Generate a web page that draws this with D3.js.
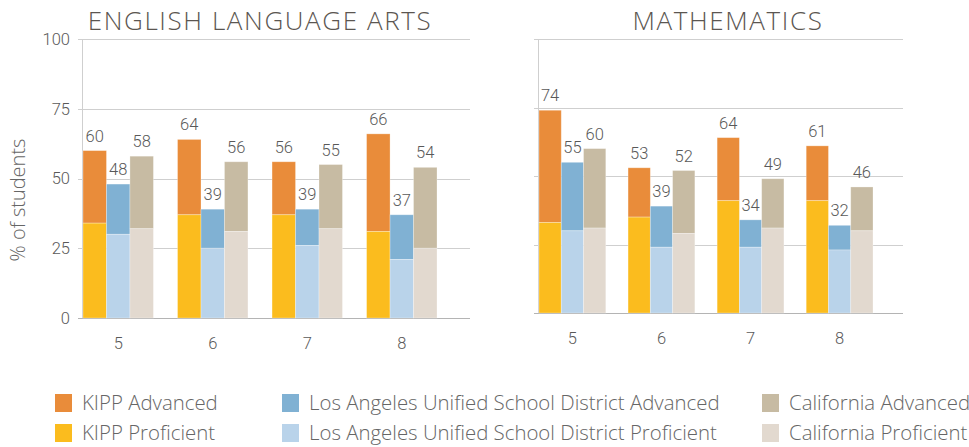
<!DOCTYPE html>
<html lang="en">
<head>
<meta charset="UTF-8">
<title>KIPP vs LAUSD vs California</title>
<script src="https://d3js.org/d3.v7.min.js"></script>
<style>
  body { margin: 0; background: #fff; }
  .title { font-family: "Open Sans", sans-serif; font-weight: 300; font-size: 26px; fill: #5b5651; letter-spacing: 1.6px; }
  .num { font-family: "Roboto", sans-serif; font-weight: 300; font-size: 16.5px; fill: #595959; }
  .legend { font-family: "Open Sans", sans-serif; font-weight: 300; font-size: 20.4px; fill: #666; }
  .ylab { font-family: "Open Sans", sans-serif; font-weight: 300; font-size: 20px; fill: #666; }
</style>
</head>
<body>
<svg width="969" height="447"></svg>
<script>
// data
var grades = ["5", "6", "7", "8"];
var groups = ["KIPP", "Los Angeles Unified School District", "California"];
var yTicks = [0, 25, 50, 75, 100];

// English Language Arts, % of students (proficient part, total proficient+advanced)
var elaProficient = {
  "KIPP": [34, 37, 37, 31],
  "Los Angeles Unified School District": [30, 25, 26, 21],
  "California": [32, 31, 32, 25]
};
var elaTotal = {
  "KIPP": [60, 64, 56, 66],
  "Los Angeles Unified School District": [48, 39, 39, 37],
  "California": [58, 56, 55, 54]
};

// Mathematics
var mathProficient = {
  "KIPP": [33, 35, 41, 41],
  "Los Angeles Unified School District": [30, 24, 24, 23],
  "California": [31, 29, 31, 30]
};
var mathTotal = {
  "KIPP": [74, 53, 64, 61],
  "Los Angeles Unified School District": [55, 39, 34, 32],
  "California": [60, 52, 49, 46]
};

var advColors = { "KIPP": "#e98c3a", "Los Angeles Unified School District": "#80b1d3", "California": "#c7bba3" };
var profColors = { "KIPP": "#fbbc1e", "Los Angeles Unified School District": "#b9d3ea", "California": "#e2d9cf" };

var svg = d3.select("svg");

function drawPanel(opts) {
  var g = svg.append("g");
  var y = d3.scaleLinear().domain([0, 100]).range([opts.y0, opts.y100]);
  var x = d3.scaleBand().domain(grades).range([opts.x0 + 1, opts.x1]).paddingInner(opts.pad).paddingOuter(0);
  var xs = d3.scaleBand().domain(groups).range([0, x.bandwidth()]);

  // gridlines
  g.selectAll(".grid").data(yTicks).enter().append("line")
    .attr("x1", opts.x0 - 4).attr("x2", opts.gridEnd)
    .attr("y1", function (d) { return Math.round(y(d)) + 0.5; })
    .attr("y2", function (d) { return Math.round(y(d)) + 0.5; })
    .attr("stroke", function (d) { return d == 0 ? "#b4b4b4" : "#cfcfcf"; })
    .attr("stroke-width", 1);
  // vertical axis line
  g.append("line").attr("x1", opts.x0 + 0.5).attr("x2", opts.x0 + 0.5)
    .attr("y1", y(100)).attr("y2", y(0)).attr("stroke", "#cfcfcf");

  if (opts.labels) {
    var ax = g.append("g").attr("transform", "translate(" + (opts.x0 - 4) + ",0)")
      .call(d3.axisLeft(y).tickValues(yTicks).tickSize(0).tickPadding(8));
    ax.select(".domain").remove();
    ax.selectAll("text").attr("class", "num").attr("font-family", null).attr("font-size", null)
      .attr("fill", null);
  }

  // x labels
  g.selectAll(".xl").data(grades).enter().append("text").attr("class", "num")
    .attr("x", function (d) { return x(d) + x.bandwidth() / 2; })
    .attr("y", opts.y0 + 31).attr("text-anchor", "middle").text(function (d) { return d; });

  groups.forEach(function (grp) {
    grades.forEach(function (gr, i) {
      var bx = x(gr) + xs(grp), bw = xs.bandwidth();
      var p = opts.prof[grp][i], t = opts.total[grp][i];
      g.append("rect").attr("x", bx).attr("width", bw)
        .attr("y", y(t)).attr("height", y(p) - y(t))
        .attr("fill", advColors[grp]).attr("stroke", "#fff").attr("stroke-opacity", 0.35).attr("stroke-width", 0.8);
      g.append("rect").attr("x", bx).attr("width", bw)
        .attr("y", y(p)).attr("height", y(0) - y(p))
        .attr("fill", profColors[grp]).attr("stroke", "#fff").attr("stroke-opacity", 0.35).attr("stroke-width", 0.8);
      g.append("text").attr("class", "num").attr("text-anchor", "middle")
        .attr("x", bx + bw / 2).attr("y", y(t) - 9).text(t);
    });
  });

  svg.append("text").attr("class", "title").attr("x", opts.titleX).attr("y", 30)
    .attr("text-anchor", "middle").text(opts.title);
}

drawPanel({ title: "ENGLISH LANGUAGE ARTS", titleX: 260, x0: 82, x1: 437, gridEnd: 470, pad: 0.255,
  y0: 318, y100: 39, labels: true, prof: elaProficient, total: elaTotal });
drawPanel({ title: "MATHEMATICS", titleX: 728, x0: 538, x1: 873, gridEnd: 903, pad: 0.25,
  y0: 313, y100: 39, labels: false, prof: mathProficient, total: mathTotal });

svg.append("text").attr("class", "ylab").attr("text-anchor", "middle")
  .attr("transform", "translate(25,200) rotate(-90)").text("% of students");

// legend
var legendItems = [];
groups.forEach(function (grp, k) {
  legendItems.push({ label: grp + " Advanced", color: advColors[grp], col: k, row: 0 });
  legendItems.push({ label: grp + " Proficient", color: profColors[grp], col: k, row: 1 });
});
var colX = [55, 282, 762];
var lg = svg.append("g").selectAll("g").data(legendItems).enter().append("g")
  .attr("transform", function (d) { return "translate(" + colX[d.col] + "," + (394 + d.row * 30) + ")"; });
lg.append("rect").attr("width", 17).attr("height", 18).attr("fill", function (d) { return d.color; });
lg.append("text").attr("class", "legend").attr("x", 27).attr("y", 16).text(function (d) { return d.label; });
</script>
</body>
</html>
